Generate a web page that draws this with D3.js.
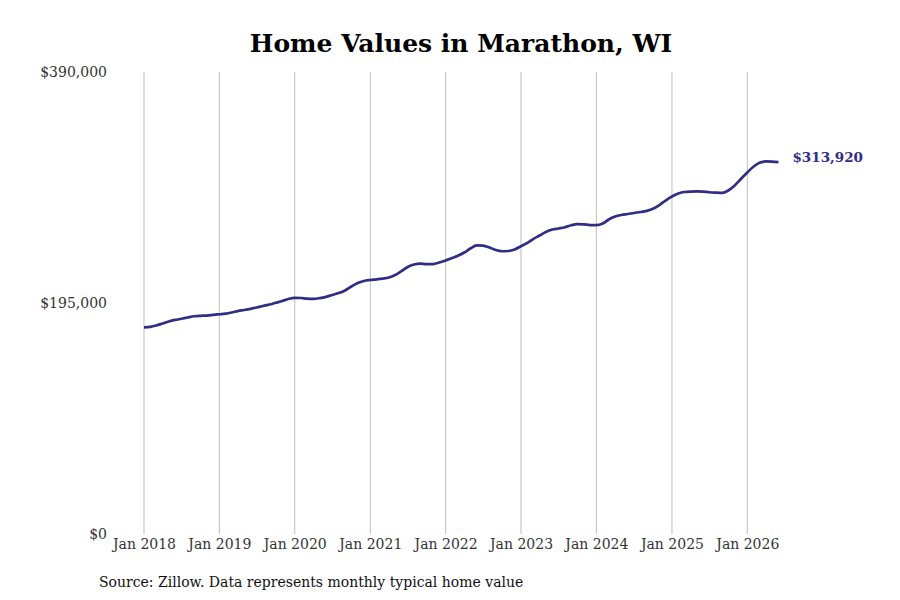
<!DOCTYPE html>
<meta charset="utf-8">
<style>
body { margin: 0; background: #fff; }
svg { font-family: "DejaVu Serif", serif; }
.grid line { stroke: #bdbdbd; stroke-width: 1px; }
.line { fill: none; stroke: #302d86; stroke-width: 2.7px; }
</style>
<svg width="900" height="600"></svg>
<script src="https://cdn.jsdelivr.net/npm/d3@7"></script>
<script>

// monthly typical home value, Jan 2018 .. Jun 2026
var startMonth = "2018-01";
var values = [
  174500, 174900, 176000, 177700, 179400, 180700, 181700, 182800, 183800, 184200, 184400, 184900,
  185500, 186100, 187000, 188200, 189100, 190100, 191200, 192500, 193700, 195200, 196700, 198400,
  199400, 199200, 198700, 198500, 199100, 200200, 201800, 203400, 205600, 208900, 211900, 213600,
  214400, 215000, 215600, 216500, 218600, 222000, 225400, 227500, 228300, 227800, 227900, 229200,
  230900, 233000, 234800, 237600, 241000, 243700, 243500, 241900, 239700, 238700, 238900, 240200,
  242900, 245700, 249000, 252000, 254900, 257000, 257900, 258900, 260600, 261500, 261400, 260800,
  260700, 262100, 265500, 268000, 269300, 270100, 271000, 271800, 272800, 274500, 277700, 281500,
  284900, 287400, 288700, 289100, 289200, 289000, 288500, 288200, 288000, 290000, 294200, 299700,
  305200, 310200, 313400, 314500, 314400, 313920
];
var yTicks = [0, 195000, 390000];
var xTickYears = [2018, 2019, 2020, 2021, 2022, 2023, 2024, 2025, 2026];
var title = "Home Values in Marathon, WI";
var source = "Source: Zillow. Data represents monthly typical home value";

var parseMonth = d3.timeParse("%Y-%m");
var start = parseMonth(startMonth);
var data = values.map(function(v, i) {
  return {date: d3.timeMonth.offset(start, i), value: v};
});

var svg = d3.select("svg");

var x = d3.scaleTime()
    .domain([new Date(2018, 0, 1), new Date(2026, 0, 1)])
    .range([144, 747.3]);
var y = d3.scaleLinear()
    .domain([0, 390000])
    .range([534, 72]);

var fmt = function(d) { return "$" + d3.format(",")(d); };

// title
svg.append("text")
    .attr("x", 461)
    .attr("y", 52)
    .attr("text-anchor", "middle")
    .style("font-size", "25px")
    .style("font-weight", "bold")
    .style("fill", "#000")
    .text(title);

// vertical grid at each January
var ticks = xTickYears.map(function(yr) { return new Date(yr, 0, 1); });
svg.append("g")
    .attr("class", "grid")
    .selectAll("line")
    .data(ticks)
  .enter().append("line")
    .attr("x1", function(d) { return x(d); })
    .attr("x2", function(d) { return x(d); })
    .attr("y1", y(390000))
    .attr("y2", y(0));

// x axis labels
var xAxis = svg.append("g")
    .attr("class", "axis axis--x")
    .attr("transform", "translate(0," + y(0) + ")")
    .call(d3.axisBottom(x).tickValues(ticks).tickSize(0).tickPadding(5)
      .tickFormat(d3.timeFormat("Jan %Y")));
xAxis.select(".domain").remove();

// y axis labels
var yAxis = svg.append("g")
    .attr("class", "axis axis--y")
    .attr("transform", "translate(107,0)")
    .call(d3.axisLeft(y).tickValues(yTicks).tickSize(0).tickPadding(0).tickFormat(fmt));
yAxis.select(".domain").remove();

svg.selectAll(".axis")
    .attr("font-family", null)
    .attr("font-size", null);
svg.selectAll(".axis text")
    .style("font-family", "'DejaVu Serif', serif")
    .style("font-size", "14px")
    .style("fill", "#333");

// series
var line = d3.line()
    .curve(d3.curveMonotoneX)
    .x(function(d) { return x(d.date); })
    .y(function(d) { return y(d.value); });

svg.append("path")
    .datum(data)
    .attr("class", "line")
    .attr("d", line);

var last = data[data.length - 1];
svg.append("text")
    .attr("x", x(last.date) + 14)
    .attr("y", y(last.value) - 4)
    .attr("dy", "0.32em")
    .style("font-size", "13.5px")
    .style("font-weight", "bold")
    .style("fill", "#302d86")
    .text(fmt(last.value));

// source note
svg.append("text")
    .attr("x", 99)
    .attr("y", 587)
    .style("font-size", "14px")
    .style("fill", "#111")
    .text(source);

</script>
